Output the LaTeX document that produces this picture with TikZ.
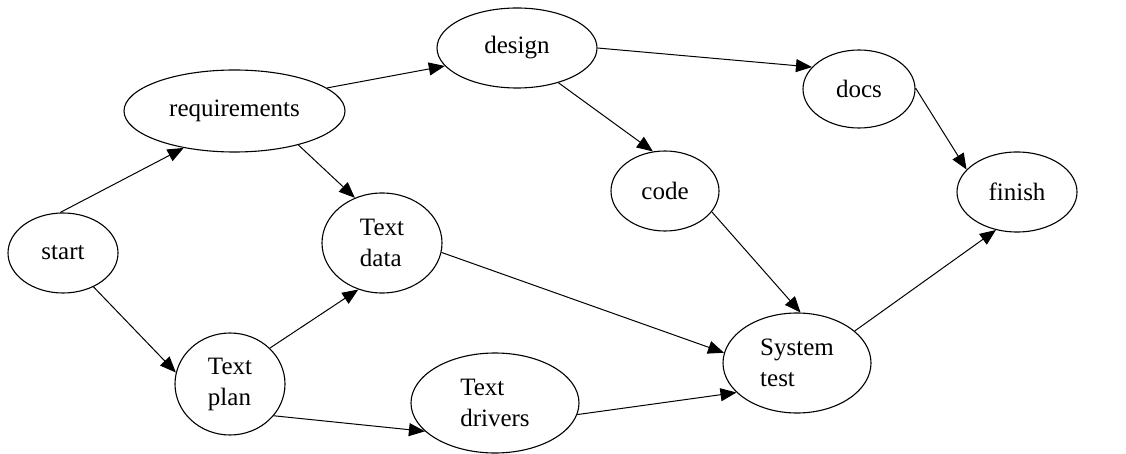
\documentclass[tikz,border=0pt]{standalone}
\usepackage{fontspec}
\setmainfont{Liberation Serif}
\usetikzlibrary{shapes.geometric,arrows.meta}
\begin{document}
\begin{tikzpicture}[x=1pt,y=-1pt,
  state/.style={draw,ellipse,line width=1.1pt,inner sep=0pt,align=left,font=\fontsize{25}{31}\selectfont},
  edge/.style={draw,line width=1pt,-{Triangle[length=16pt,width=13pt]}}]
\useasboundingbox (0,0) rectangle (1126,454);
\node[state,minimum width=110pt,minimum height=80pt] (start) at (63,253) {start};
\node[state,minimum width=221pt,minimum height=82pt] (req) at (234.5,111) {requirements};
\node[state,minimum width=160pt,minimum height=80pt] (design) at (517,48) {design};
\node[state,minimum width=120pt,minimum height=100pt] (tdata) at (382,243) {Text\\data};
\node[state,minimum width=110pt,minimum height=102pt] (tplan) at (230,384) {Text\\plan};
\node[state,minimum width=168pt,minimum height=100pt] (tdrivers) at (495,403) {Text\\drivers};
\node[state,minimum width=112pt,minimum height=78pt] (docs) at (859,89) {docs};
\node[state,minimum width=108pt,minimum height=80pt] (code) at (665,191) {code};
\node[state,minimum width=120pt,minimum height=80pt] (finish) at (1017,192) {finish};
\node[state,minimum width=148pt,minimum height=100pt] (systest) at (797,363) {System\\test};
\draw[edge] (start.94) -- (req.216.6);
\draw[edge] (start.312) -- (tplan.168.7);
\draw[edge] (req.14.1) -- (design.194.4);
\draw[edge] (req.332) -- (tdata.121);
\draw[edge] (tplan.42) -- (tdata.243.4);
\draw[edge] (tplan.324) -- (tdrivers.202.3);
\draw[edge] (tdata.351) -- (systest.172);
\draw[edge] (tdrivers.352) -- (systest.206.6);
\draw[edge] (design.0) -- (docs.155.5);
\draw[edge] (design.320) -- (code.107.6);
\draw[edge] (code.336) -- (systest.86.6);
\draw[edge] (docs.1) -- (finish.156.4);
\draw[edge] (systest.29.6) -- (finish.241.8);
\end{tikzpicture}
\end{document}
